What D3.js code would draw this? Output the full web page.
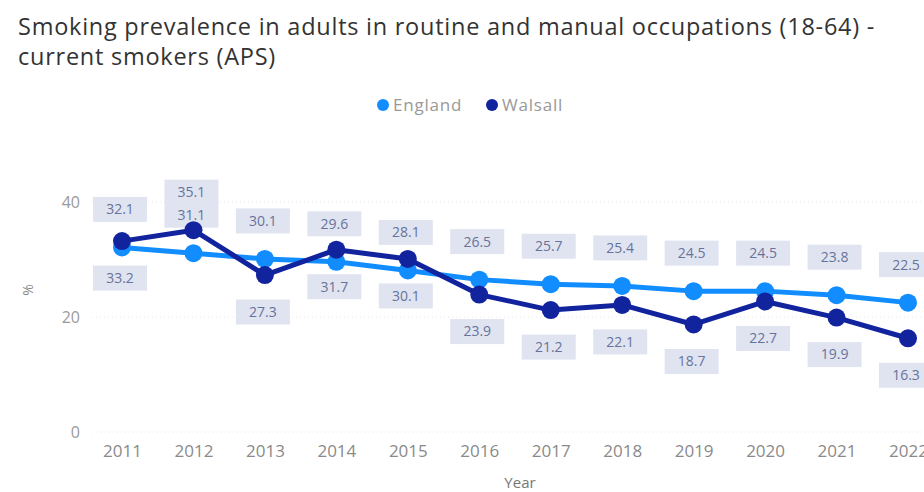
<!DOCTYPE html>
<html>
<head>
<meta charset="utf-8">
<script src="https://cdn.jsdelivr.net/npm/d3@7"></script>
<style>
  body { margin: 0; background: #fff; }
  svg { display: block; font-family: "Open Sans", sans-serif; }
</style>
</head>
<body>
<div id="chart"></div>
<script>
// data
const years = ["2011", "2012", "2013", "2014", "2015", "2016", "2017", "2018", "2019", "2020", "2021", "2022"];
const england = [32.1, 31.1, 30.1, 29.6, 28.1, 26.5, 25.7, 25.4, 24.5, 24.5, 23.8, 22.5];
const walsall = [33.2, 35.1, 27.3, 31.7, 30.1, 23.9, 21.2, 22.1, 18.7, 22.7, 19.9, 16.3];
const yTicks = [0, 20, 40];
const seriesNames = ["England", "Walsall"];

const width = 924;
const height = 492;
const colors = { England: "#118dff", Walsall: "#12239e" };

const svg = d3.select("#chart")
    .append("svg")
    .attr("width", width)
    .attr("height", height);

// title
const titleLines = [
    "Smoking prevalence in adults in routine and manual occupations (18-64) -",
    "current smokers (APS)"
];
svg.append("g")
    .selectAll("text")
    .data(titleLines)
    .join("text")
    .attr("x", 18)
    .attr("y", (d, i) => 35 + i * 30)
    .attr("font-size", 23.5)
    .attr("letter-spacing", 0.75)
    .attr("fill", "#333")
    .text(d => d);

// scales
const x = d3.scalePoint()
    .domain(years)
    .range([122, 908]);

const y = d3.scaleLinear()
    .domain([0, 40])
    .range([432, 202]);

// gridlines
svg.append("g")
    .selectAll("line")
    .data(yTicks)
    .join("line")
    .attr("x1", 92)
    .attr("x2", width)
    .attr("y1", d => y(d))
    .attr("y2", d => y(d))
    .attr("stroke", "#e8e8e8")
    .attr("stroke-dasharray", "1,3");

// y axis
const yAxis = svg.append("g")
    .attr("transform", "translate(80,0)")
    .call(d3.axisLeft(y).tickValues(yTicks).tickSize(0).tickPadding(0));
yAxis.select(".domain").remove();
yAxis.selectAll("text")
    .attr("font-size", 16)
    .attr("font-family", "Open Sans, sans-serif")
    .attr("fill", "#9a9a9a");

svg.append("text")
    .attr("transform", "translate(33,290) rotate(-90)")
    .attr("text-anchor", "middle")
    .attr("font-size", 14)
    .attr("fill", "#8a8a8a")
    .text("%");

// x axis
const xAxis = svg.append("g")
    .attr("transform", "translate(0,445)")
    .call(d3.axisBottom(x).tickSize(0).tickPadding(0));
xAxis.select(".domain").remove();
xAxis.selectAll("text")
    .attr("font-size", 17)
    .attr("font-family", "Open Sans, sans-serif")
    .attr("fill", "#8a8a8a");

svg.append("text")
    .attr("x", 520)
    .attr("y", 488)
    .attr("text-anchor", "middle")
    .attr("font-size", 15)
    .attr("fill", "#777")
    .text("Year");

// legend
const legend = svg.append("g")
    .attr("transform", "translate(383,105)");
let lx = 0;
seriesNames.forEach(name => {
    legend.append("circle")
        .attr("cx", lx)
        .attr("cy", 0)
        .attr("r", 6)
        .attr("fill", colors[name]);
    legend.append("text")
        .attr("x", lx + 10)
        .attr("y", 6)
        .attr("font-size", 17)
        .attr("letter-spacing", 0.8)
        .attr("fill", "#999")
        .text(name);
    lx += 109;
});

// data labels (England above, Walsall below unless well above England)
const labels = [];
years.forEach((yr, i) => {
    labels.push({ year: yr, value: england[i], dy: -38 });
    const above = walsall[i] - england[i] > 3;
    labels.push({ year: yr, value: walsall[i], dy: above ? -38 : 37 });
});

const labelG = svg.append("g")
    .selectAll("g")
    .data(labels)
    .join("g")
    .attr("transform", d => `translate(${x(d.year) - 2},${y(d.value) + d.dy})`);

labelG.append("rect")
    .attr("x", -27)
    .attr("y", -12.5)
    .attr("width", 54)
    .attr("height", 25)
    .attr("fill", "#e0e4f1");

labelG.append("text")
    .attr("text-anchor", "middle")
    .attr("dy", "0.35em")
    .attr("font-size", 14)
    .attr("fill", "#67739a")
    .text(d => d.value.toFixed(1));

// lines and markers
const line = d3.line()
    .x((d, i) => x(years[i]))
    .y(d => y(d));

[["England", england], ["Walsall", walsall]].forEach(([name, values]) => {
    svg.append("path")
        .datum(values)
        .attr("fill", "none")
        .attr("stroke", colors[name])
        .attr("stroke-width", 5)
        .attr("stroke-linejoin", "round")
        .attr("d", line);

    svg.append("g")
        .selectAll("circle")
        .data(values)
        .join("circle")
        .attr("cx", (d, i) => x(years[i]))
        .attr("cy", d => y(d))
        .attr("r", 9)
        .attr("fill", colors[name]);
});
</script>
</body>
</html>
